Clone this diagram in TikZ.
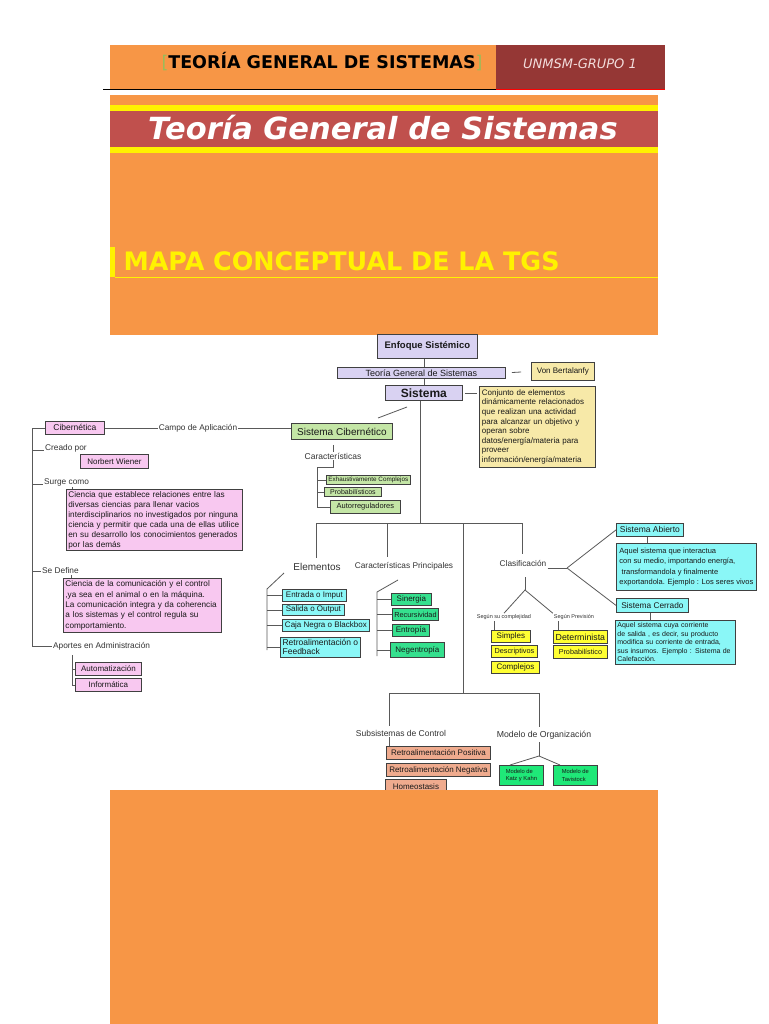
\documentclass[tikz,border=0pt]{standalone}
\usepackage{fontspec}
\usepackage{tikz}
\usetikzlibrary{positioning,calc}
\newfontfamily\diag{Liberation Sans}
\newfontfamily\head{DejaVu Sans}
\newcommand\fsz[2]{\fontsize{#1}{#2}\selectfont}
\definecolor{orng}{HTML}{F79646}
\definecolor{dkred}{HTML}{953735}
\definecolor{bandred}{HTML}{C0504D}
\definecolor{brgreen}{HTML}{9BBB59}
\definecolor{pinktxt}{HTML}{F2DCDB}
\definecolor{lavbox}{HTML}{D9D2F2}
\definecolor{khaki}{HTML}{F7E9A8}
\definecolor{pinkbox}{HTML}{F8C8F0}
\definecolor{lgreen}{HTML}{C4E6A6}
\definecolor{cyanbox}{HTML}{8AF7F7}
\definecolor{mgreen}{HTML}{35E08E}
\definecolor{brightgreen}{HTML}{1FE878}
\definecolor{ybox}{HTML}{FFFF33}
\definecolor{salbox}{HTML}{EFAB8E}
\tikzset{
  ln/.style={draw=black!65, line width=0.8pt},
  wh/.style 2 args={minimum width=#1pt, minimum height=#2pt},
  bx/.style={draw=black!75, line width=0.8pt, anchor=north west, inner xsep=2pt, inner ysep=0.5pt, align=left, text=black!90, font=\diag\fsz{8}{9}},
  lav/.style={bx, fill=lavbox},
  kh/.style={bx, fill=khaki},
  pk/.style={bx, fill=pinkbox},
  lg/.style={bx, fill=lgreen},
  cy/.style={bx, fill=cyanbox},
  mg/.style={bx, fill=mgreen},
  yb/.style={bx, fill=ybox},
  sb/.style={bx, fill=salbox},
  bg/.style={bx, fill=brightgreen},
  lbl/.style={inner sep=1pt, text=black!80, font=\diag\fsz{8.3}{9}},
}
\begin{document}
\begin{tikzpicture}[x=1pt,y=-1pt]
\useasboundingbox (0,0) rectangle (768,1024);
\fill[white] (0,0) rectangle (768,1024);
% encabezado
\fill[orng] (110,45) rectangle (496,90);
\fill[dkred] (496,45) rectangle (665,90);
\draw[black, line width=1pt] (103,90) -- (496,90);
\draw[red, line width=1pt] (496,90) -- (665,90);
\node[font=\head\bfseries\fsz{17.5}{20}] (hdr) at (322,62) {{\mdseries\color{brgreen}[}TEORÍA GENERAL DE SISTEMAS{\mdseries\color{brgreen}]}};
\node[font=\head\itshape\fsz{13}{15}, text=pinktxt] (grupo) at (580,64) {UNMSM-GRUPO 1};
\fill[orng] (110,95) rectangle (658,335);
\fill[yellow] (110,105) rectangle (658,153);
\fill[bandred] (110,111) rectangle (658,147);
\node[font=\head\bfseries\itshape\fsz{30.5}{34}, text=white] (titulo) at (383,128) {Teoría General de Sistemas};
\fill[yellow] (110,247) rectangle (115,277);
\draw[yellow, line width=0.8pt] (115,277) -- (658,277);
\node[anchor=base west, font=\head\bfseries\fsz{25.4}{28}, text=yellow] (mapa) at (120,270) {MAPA CONCEPTUAL DE LA TGS};
% mapa conceptual
\node[lav, wh={100}{24}, font=\diag\bfseries\fsz{9.5}{11}] (enfoque) at (377,334) {Enfoque Sistémico};
\node[lav, wh={168}{11}, font=\diag\fsz{9}{10}] (teoria) at (337,367) {Teoría General de Sistemas};
\node[kh, wh={63}{18}] (vonb) at (531,362) {Von Bertalanfy};
\node[lav, wh={77}{15}, font=\diag\bfseries\fsz{12}{13}] (sistema) at (385,385) {Sistema};
\node[kh, wh={116}{81}, text width=111pt, font=\diag\fsz{8}{9.6}] (desc) at (479,386) {Conjunto de elementos\\dinámicamente relacionados\\que realizan una actividad\\para alcanzar un objetivo y\\operan sobre\\datos/energía/materia para\\proveer\\información/energía/materia};
\node[lg, wh={101}{16}, font=\diag\fsz{10}{11}] (sciber) at (291,423) {Sistema Cibernético};
\node[lbl, font=\diag\fsz{8.5}{9}] (caract) at (333,456) {Características};
\node[lg, wh={82}{9}, font=\diag\fsz{6.3}{7}] (exh) at (326,475) {Exhaustivamente Complejos};
\node[lg, wh={57}{9}, font=\diag\fsz{7}{8}] (prob) at (324,487) {Probabilísticos};
\node[lg, wh={70}{13}, font=\diag\fsz{7.5}{8}] (autor) at (330,500) {Autorreguladores};
\node[pk, wh={59}{13}, font=\diag\fsz{8.5}{9}] (ciber) at (45,421) {Cibernética};
\node[lbl] (campo) at (198,428) {Campo de Aplicación};
\node[lbl, anchor=base west] (creado) at (44,450) {Creado por};
\node[pk, wh={68}{14}] (wiener) at (80,454) {Norbert Wiener};
\node[lbl, anchor=base west] (surgec) at (43,484) {Surge como};
\node[pk, wh={176}{61}, text width=172pt, font=\diag\fsz{8.2}{10}] (surge) at (66,489) {Ciencia que establece relaciones entre las\\diversas ciencias para llenar vacios\\interdisciplinarios no investigados por ninguna\\ciencia y permitir que cada una de ellas utilice\\en su desarrollo los conocimientos generados\\por las demás};
\node[lbl, anchor=west] (sedef) at (41,571) {Se Define};
\node[pk, wh={158}{54}, text width=154pt, font=\diag\fsz{8.2}{10.3}] (define) at (63,578) {Ciencia de la comunicación y el control\\,ya sea en el animal o en la máquina.\\La comunicación integra y da coherencia\\a los sistemas y el control regula su\\comportamiento.};
\node[lbl, anchor=west] (aportes) at (52,646) {Aportes en Administración};
\node[pk, wh={66}{13}] (autom) at (75,662) {Automatización};
\node[pk, wh={66}{13}] (inform) at (75,678) {Informática};
\node[lbl, font=\diag\fsz{10}{11}] (elem) at (317,567) {Elementos};
\node[lbl] (carp) at (404,566) {Características Principales};
\node[lbl] (clasif) at (523,563) {Clasificación};
\node[cy, wh={64}{12}] (entrada) at (282,589) {Entrada o Imput};
\node[cy, wh={62}{11}] (salida) at (282,604) {Salida o Output};
\node[cy, wh={87}{12}] (caja) at (282,619) {Caja Negra o Blackbox};
\node[cy, wh={80}{20}, font=\diag\fsz{8.5}{9}] (retro) at (280,637) {Retroalimentación o\\Feedback};
\node[mg, wh={40}{12}] (sinerg) at (391,593) {Sinergia};
\node[mg, wh={46}{12}, font=\diag\fsz{7.3}{8}] (recurs) at (392,608) {Recursividad};
\node[mg, wh={37}{12}] (entrop) at (392,624) {Entropía};
\node[mg, wh={54}{15}] (negen) at (390,642) {Negentropía};
\node[cy, wh={67}{13}, font=\diag\fsz{8.5}{9}] (abierto) at (616,523) {Sistema Abierto};
\node[cy, wh={140}{47}, font=\diag\fsz{7.5}{10.5}] (abdesc) at (616,543) {Aquel sistema que interactua\\con su medio, importando energía,\\\ transformandola y finalmente\\exportandola. Ejemplo : Los seres vivos};
\node[cy, wh={72}{14}, font=\diag\fsz{8.3}{9}] (cerrado) at (616,598) {Sistema Cerrado};
\node[cy, wh={120}{44}, text width=116pt, font=\diag\fsz{7}{8.5}] (cedesc) at (615,620) {Aquel sistema cuya corriente\\de salida , es decir, su producto\\modifica su corriente de entrada,\\sus insumos. Ejemplo : Sistema de\\Calefacción.};
\node[lbl, font=\diag\fsz{5.5}{6}] (segc) at (504,617) {Según su complejidad};
\node[lbl, font=\diag\fsz{5.5}{6}] (segp) at (574,617) {Según Previsión};
\node[yb, wh={39}{12}] (simples) at (491,630) {Simples};
\node[yb, wh={46}{12}, font=\diag\fsz{7.3}{8}] (descr) at (491,645) {Descriptivos};
\node[yb, wh={48}{12}] (compl) at (491,661) {Complejos};
\node[yb, wh={54}{13}, font=\diag\fsz{8.8}{9}] (determ) at (553,630) {Determinista};
\node[yb, wh={54}{13}, font=\diag\fsz{7.2}{8}] (probab) at (553,645) {Probabilístico};
\node[lbl, font=\diag\fsz{8.5}{9}] (subs) at (401,733) {Subsistemas de Control};
\node[lbl, font=\diag\fsz{8.7}{9}] (modelo) at (544,735) {Modelo de Organización};
\node[sb, wh={104}{13}] (rpos) at (386,746) {Retroalimentación Positiva};
\node[sb, wh={104}{13}] (rneg) at (386,763) {Retroalimentación Negativa};
\node[sb, wh={61}{14}] (homeo) at (385,779) {Homeostasis};
\node[bg, wh={44}{20}, font=\diag\fsz{5.8}{7.5}] (katz) at (499,765) {Modelo de\\Katz y Kahn};
\node[bg, wh={44}{20}, font=\diag\fsz{5.8}{7.5}] (tavis) at (553,765) {Modelo de\\Tavistock};
% conectores
\draw[ln] (enfoque.south -| sistema.north) -- (teoria.north -| sistema.north);
\draw[ln] (teoria.south -| sistema.north) -- (sistema.north);
\draw[ln, shorten <=6pt, shorten >=10pt] (teoria.east) -- (vonb.west);
\draw[ln, shorten <=2pt, shorten >=2pt] (sistema.east) -- (sistema.east -| desc.west);
\coordinate (d1) at (407,407);
\coordinate (d2) at (378,418);
\draw[ln] (d1) -- (d2);
\draw[ln, shorten <=5pt] (sciber.south -| caract.north) -- (caract.north);
\coordinate (cb) at (317,467);
\draw[ln] (caract.south) |- (cb) -- (cb |- autor.west) -- (autor.west);
\draw[ln] (cb |- exh.west) -- (exh.west);
\draw[ln] (cb |- prob.west) -- (prob.west);
\coordinate (lsp) at (32,428);
\draw[ln] (ciber.west) -- (ciber.west -| lsp) -- (lsp |- aportes.west) -- (aportes.west);
\draw[ln] (ciber.east) -- (ciber.east -| campo.west);
\draw[ln] (campo.east) -- (campo.east -| sciber.west);
\draw[ln] (lsp |- creado.base west) -- (creado.base west);
\draw[ln] (lsp |- surgec.base west) -- (surgec.base west);
\draw[ln] (lsp |- sedef.west) -- (sedef.west);
\coordinate (t1) at ($(surge.north west)+(6,0)$);
\draw[ln] (t1) -- (t1 |- surgec.south);
\coordinate (t2) at ($(define.north west)+(8,0)$);
\draw[ln] (t2) -- (t2 |- sedef.south);
\coordinate (ap) at (72,655);
\draw[ln] (ap) -- (ap |- inform.west) -- (inform.west);
\draw[ln] (ap |- autom.west) -- (autom.west);
\coordinate (hub) at (420,523);
\draw[ln] (sistema.south -| hub) -- (hub);
\coordinate (ve) at (316,523);
\coordinate (vc) at (387,523);
\coordinate (vl) at (463,523);
\coordinate (vk) at (522,523);
\draw[ln] (ve) -- (vk);
\draw[ln, shorten >=4pt] (ve) -- (ve |- elem.north);
\draw[ln, shorten >=4pt] (vc) -- (vc |- carp.north);
\draw[ln, shorten >=5pt] (vk) -- (vk |- clasif.north);
\coordinate (hub2) at (463,693);
\draw[ln] (vl) -- (hub2);
\coordinate (vs) at (389,693);
\coordinate (vm) at (539,693);
\draw[ln] (vs) -- (vm);
\draw[ln, shorten >=3pt] (vs) -- (vs |- subs.north);
\draw[ln, shorten >=3pt] (vm) -- (vm |- modelo.north);
\coordinate (e0) at (284,573);
\coordinate (eb) at (267,589);
\draw[ln] (e0) -- (eb) -- ++(0,61);
\foreach \n in {entrada,salida,caja,retro} \draw[ln] (eb |- \n.west) -- (\n.west);
\coordinate (c0) at (398,580);
\coordinate (cb2) at (377,592);
\draw[ln] (c0) -- (cb2) -- ++(0,64);
\foreach \n in {sinerg,recurs,entrop,negen} \draw[ln] (cb2 |- \n.west) -- (\n.west);
\coordinate (cl) at (567,568);
\draw[ln] (cl -| clasif.east) -- (cl);
\draw[ln] (cl) -- (abierto.west);
\draw[ln] (cl) -- (cerrado.west);
\coordinate (ta) at ($(abierto.south west)+(31,0)$);
\draw[ln] (ta) -- (ta |- abdesc.north);
\coordinate (tc) at ($(cerrado.south west)+(34,0)$);
\draw[ln] (tc) -- (tc |- cedesc.north);
\coordinate (k1) at (525,577);
\coordinate (k0) at (525,590);
\draw[ln] (k1) -- (k0);
\draw[ln] (segc.north) -- (k0) -- (segp.north west);
\coordinate (ts) at ($(simples.north west)+(3,0)$);
\draw[ln] (ts) -- (ts |- segc.south);
\coordinate (td) at ($(determ.north west)+(5,0)$);
\draw[ln] (td) -- (td |- segp.south);
\coordinate (tr) at ($(rpos.north west)+(3,0)$);
\draw[ln] (tr) -- (tr |- subs.south);
\coordinate (m0) at (539,756);
\draw[ln, shorten <=2pt] (vm |- modelo.south) -- (m0);
\coordinate (mk) at ($(katz.north west)+(11,0)$);
\coordinate (mt) at ($(tavis.north west)+(7,0)$);
\draw[ln] (mk) -- (m0) -- (mt);
% pie
\fill[orng] (110,790) rectangle (658,1024);
\end{tikzpicture}
\end{document}
